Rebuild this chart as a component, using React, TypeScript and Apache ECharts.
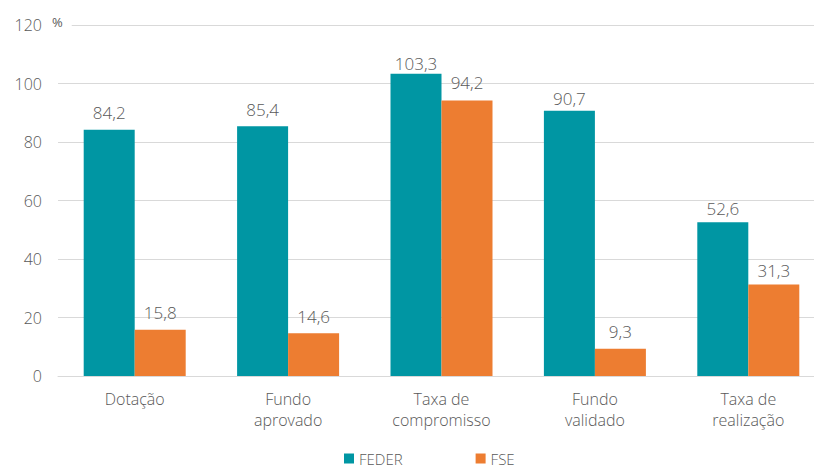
import React, { useEffect, useRef } from "react";
import * as echarts from "echarts";

const categories = ["Dotação", "Fundo\naprovado", "Taxa de\ncompromisso", "Fundo\nvalidado", "Taxa de\nrealização"];
const federValues = [84.2, 85.4, 103.3, 90.7, 52.6];
const fseValues = [15.8, 14.6, 94.2, 9.3, 31.3];
const yTicks = [0, 20, 40, 60, 80, 100, 120];
const seriesNames = ["FEDER", "FSE"];

// label gaps above bars (style, not data)
const federLabelGap = [9, 8, 2, 4, 5];
const fseLabelGap = [9, 8, 9, 9, 5];

const FONT = "'Open Sans', 'Noto Sans', sans-serif";
const TEXT = "#595959";
const fmt = (v: number) => v.toFixed(1).replace(".", ",");

export default function App() {
  const ref = useRef<HTMLDivElement>(null);
  useEffect(() => {
    if (!ref.current) return;
    const chart = echarts.init(ref.current, undefined, { renderer: "svg" });
    const mk = (vals: number[], gaps: number[]) =>
      vals.map((v, i) => ({ value: v, label: { distance: gaps[i] } }));
    const barLabel = {
      show: true,
      position: "top",
      formatter: (p: any) => fmt(p.value),
      fontFamily: FONT,
      fontSize: 17,
      fontWeight: 300,
      color: TEXT,
    };
    chart.setOption({
      animation: false,
      textStyle: { fontFamily: FONT, color: TEXT },
      grid: { left: 58, top: 25, width: 767, height: 351 },
      legend: {
        left: 344,
        top: 451,
        padding: 0,
        itemWidth: 10,
        itemHeight: 10,
        itemGap: 73,
        icon: "rect",
        textStyle: { fontFamily: FONT, fontSize: 15, color: TEXT, fontWeight: 300 },
        data: seriesNames,
      },
      xAxis: {
        type: "category",
        data: categories,
        axisTick: { show: false },
        axisLine: { lineStyle: { color: "#d9d9d9", width: 1 } },
        axisLabel: {
          fontFamily: FONT,
          fontSize: 16,
          fontWeight: 300,
          color: TEXT,
          margin: 12,
          lineHeight: 21,
          interval: 0,
        },
      },
      yAxis: {
        type: "value",
        min: yTicks[0],
        max: yTicks[yTicks.length - 1],
        interval: 20,
        axisLine: { show: false },
        axisTick: { show: false },
        splitLine: { lineStyle: { color: "#d9d9d9", width: 1 } },
        axisLabel: {
          fontFamily: FONT,
          fontSize: 16,
          fontWeight: 300,
          color: TEXT,
          margin: 16,
        },
      },
      graphic: [
        {
          type: "text",
          left: 52,
          top: 13,
          z: 100,
          style: {
            text: "%",
            fontFamily: FONT,
            fontSize: 13,
            fill: TEXT,
            backgroundColor: "#ffffff",
            padding: [2, 9, 2, 0],
          },
        },
      ],
      series: [
        {
          name: seriesNames[0],
          type: "bar",
          data: mk(federValues, federLabelGap),
          barWidth: 51,
          barGap: "0%",
          itemStyle: { color: "#0096A3" },
          label: barLabel,
        },
        {
          name: seriesNames[1],
          type: "bar",
          data: mk(fseValues, fseLabelGap),
          barWidth: 51,
          itemStyle: { color: "#ED7D31" },
          label: barLabel,
        },
      ],
    });
    return () => chart.dispose();
  }, []);
  return (
    <div
      style={{ position: "fixed", left: 0, top: 0, width: 814, height: 468, overflow: "hidden", background: "#fff" }}
    >
      <div ref={ref} style={{ width: 830, height: 468 }} />
    </div>
  );
}
